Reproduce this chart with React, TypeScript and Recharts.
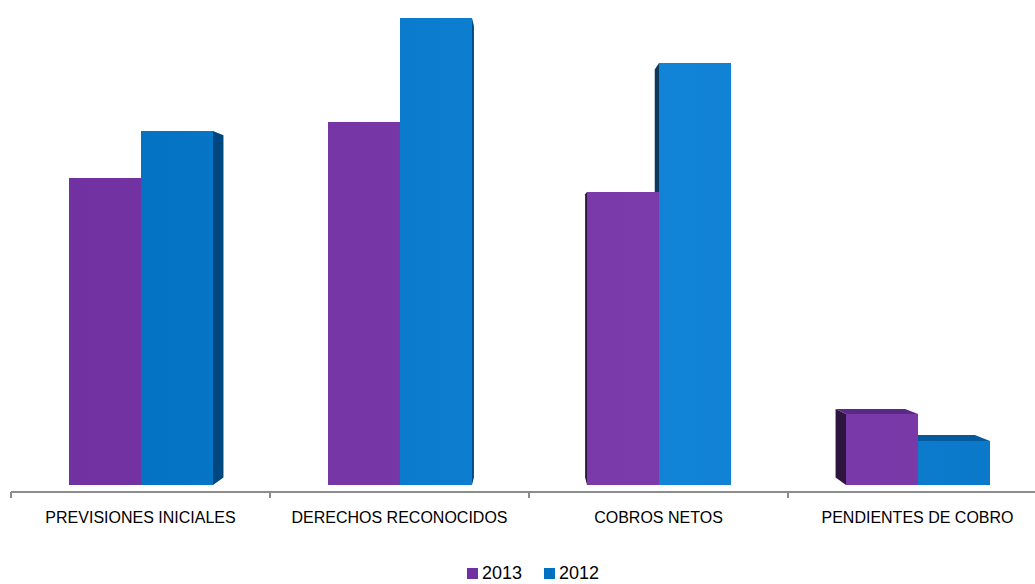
import React from 'react';
import { BarChart, Bar, XAxis, YAxis, Legend } from 'recharts';

const categories = ['PREVISIONES INICIALES', 'DERECHOS RECONOCIDOS', 'COBROS NETOS', 'PENDIENTES DE COBRO'];
const values2013 = [30.7, 36.3, 29.3, 7.1];
const values2012 = [35.4, 46.7, 42.2, 4.4];

const data = categories.map((name, i) => ({ name, y2013: values2013[i], y2012: values2012[i] }));

// perspective for the fake 3D look
const VP = { x: 530, y: 260 };
const S = 0.033;
const back = (px: number, py: number) => [px + (VP.x - px) * S, py + (VP.y - py) * S];

const colors: any = {
    y2013: { main: '#7030A0', side: '#2E1540', top: '#5B2885' },
    y2012: { main: '#0070C0', side: '#00467F', left: '#0D3A5C', top: '#055A9E' },
};

function Box3D(props: any) {
    const { x, y, width: w, height: h, fill, dataKey, payload } = props;
    if (h <= 0) return null;
    const c = colors[dataKey];
    const bottom = y + h;
    // top of the purple bar next to it (only used for 2012)
    let limitY = bottom;
    if (dataKey === 'y2012') {
        limitY = bottom - (h * payload.y2013) / payload.y2012;
    }
    const faces: React.ReactNode[] = [];
    const pts = (arr: number[][]) => arr.map(p => p.join(',')).join(' ');

    if (x + w < VP.x) {
        const [bx1, by1] = back(x + w, y);
        const [bx2, by2] = back(x + w, bottom);
        faces.push(<polygon key="r" points={pts([[x + w, y], [bx1, by1], [bx2, by2], [x + w, bottom]])} fill={c.side} />);
    } else if (x > VP.x) {
        const [bx1, by1] = back(x, y);
        if (dataKey === 'y2012') {
            if (limitY > y) {
                faces.push(<polygon key="l" points={pts([[x, y], [bx1, by1], [bx1, limitY], [x, limitY]])} fill={c.left} />);
            }
        } else {
            const [bx2, by2] = back(x, bottom);
            faces.push(<polygon key="l" points={pts([[x, y], [bx1, by1], [bx2, by2], [x, bottom]])} fill={c.side} />);
        }
    }
    if (y > VP.y) {
        const [a1, b1] = back(x, y);
        const [a2, b2] = back(x + w, y);
        const leftX = dataKey === 'y2012' && limitY < y ? x : a1;
        faces.push(<polygon key="t" points={pts([[x, y], [leftX, b1], [a2, b2], [x + w, y]])} fill={c.top} />);
    }
    return (
        <g>
            {faces}
            <rect x={x} y={y} width={w} height={h} fill={fill} />
        </g>
    );
}

function CategoryTick(props: any) {
    const { x, y, payload } = props;
    const half = payload.offset ?? 0;
    return (
        <g>
            <line x1={x - half} y1={y} x2={x - half} y2={y + 6} stroke="#8c8c8c" strokeWidth={2} />
            <text x={x} y={y + 31} textAnchor="middle" fill="#000" fontSize={16} fontFamily="'Liberation Sans', Arial, sans-serif">
                {payload.value}
            </text>
        </g>
    );
}

function LegendContent(props: any) {
    const items = props.payload || [];
    return (
        <div style={{ display: 'flex', justifyContent: 'center', alignItems: 'center', height: 30, paddingTop: 8, boxSizing: 'border-box', marginLeft: 8, fontFamily: "'Liberation Sans', Arial, sans-serif", fontSize: 18, color: '#000' }}>
            {items.map((it: any, i: number) => (
                <span key={i} style={{ display: 'flex', alignItems: 'center', marginRight: i < items.length - 1 ? 22 : 0 }}>
                    <span style={{ display: 'inline-block', width: 11, height: 11, background: colors[it.dataKey]?.main, marginRight: 4 }} />
                    {it.value}
                </span>
            ))}
        </div>
    );
}

export default function App() {
    return (
        <div style={{ position: 'absolute', left: 0, top: 0, width: 1035, height: 584, overflow: 'hidden', background: '#fff' }}>
            <BarChart width={1060} height={584} data={data} margin={{ top: 18, right: 13, left: 11, bottom: 0 }} barGap={0} barSize={72}>
                <defs>
                    <linearGradient id="gPurple" gradientUnits="userSpaceOnUse" x1="0" y1="0" x2="1035" y2="0">
                        <stop offset="0" stopColor="#7030A0" />
                        <stop offset="0.65" stopColor="#7B3BAB" />
                        <stop offset="1" stopColor="#7838A6" />
                    </linearGradient>
                    <linearGradient id="gBlue" gradientUnits="userSpaceOnUse" x1="0" y1="0" x2="1035" y2="0">
                        <stop offset="0" stopColor="#006EBE" />
                        <stop offset="0.65" stopColor="#1284D7" />
                        <stop offset="1" stopColor="#0A77C8" />
                    </linearGradient>
                </defs>
                <XAxis dataKey="name" height={62} tickSize={0} tickMargin={0} tickLine={false} axisLine={{ stroke: '#8c8c8c', strokeWidth: 2 }} tick={<CategoryTick />} interval={0} />
                <YAxis hide type="number" domain={[-0.7, 46.7]} allowDataOverflow />
                <Legend height={30} content={<LegendContent />} itemSorter={null} />
                <Bar name="2013" dataKey="y2013" fill="url(#gPurple)" legendType="square" shape={<Box3D dataKey="y2013" />} isAnimationActive={false} />
                <Bar name="2012" dataKey="y2012" fill="url(#gBlue)" legendType="square" shape={<Box3D dataKey="y2012" />} isAnimationActive={false} />
            </BarChart>
        </div>
    );
}
